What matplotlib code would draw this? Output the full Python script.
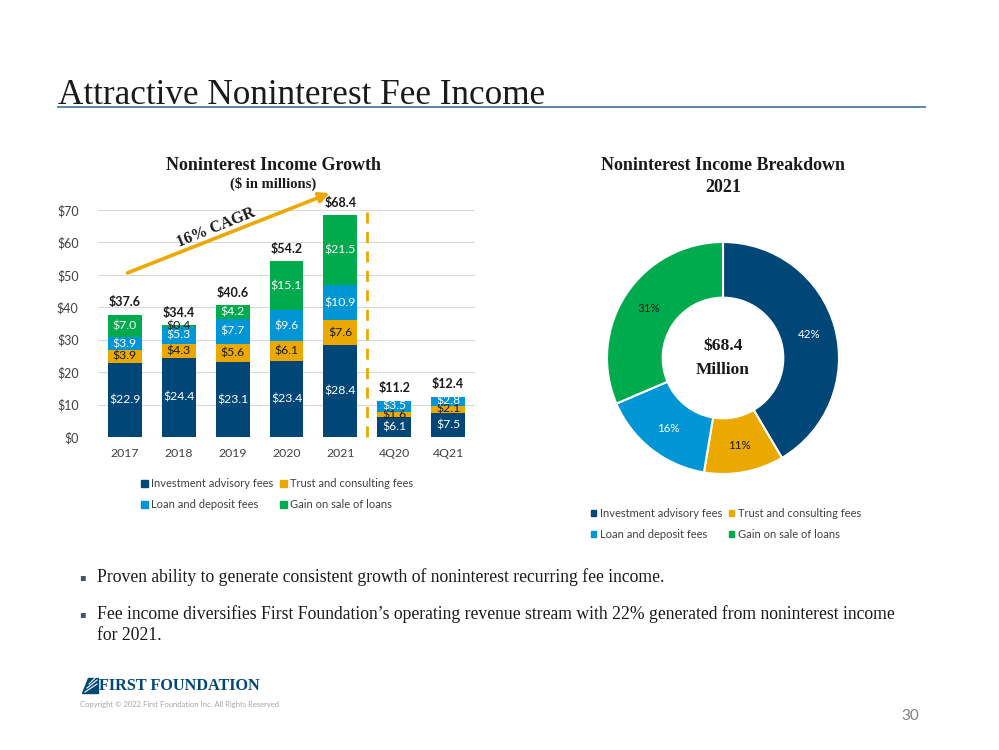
import matplotlib
matplotlib.use('Agg')
import matplotlib.pyplot as plt
import numpy as np
from matplotlib.patches import Polygon, Patch
from matplotlib.lines import Line2D

# data ($ millions)
periods = ['2017', '2018', '2019', '2020', '2021', '4Q20', '4Q21']
inv_fees = [22.9, 24.4, 23.1, 23.4, 28.4, 6.1, 7.5]
trust_fees = [3.9, 4.3, 5.6, 6.1, 7.6, 1.6, 2.1]
loan_fees = [3.9, 5.3, 7.7, 9.6, 10.9, 3.5, 2.8]
gain_fees = [7.0, 0.4, 4.2, 15.1, 21.5, 0.0, 0.0]
totals = [37.6, 34.4, 40.6, 54.2, 68.4, 11.2, 12.4]
series_names = ['Investment advisory fees', 'Trust and consulting fees',
                'Loan and deposit fees', 'Gain on sale of loans']
pie_values = [28.4, 7.6, 10.9, 21.5]   # 2021 split
y_ticks = [0, 10, 20, 30, 40, 50, 60, 70]

navy = '#004677'
gold = '#EBA900'
blue = '#0096D6'
green = '#00AB4E'
colors = [navy, gold, blue, green]
label_cols = ['white', '#1a1a1a', 'white', 'white']

W, H = 999, 750
sans = ['Lato', 'DejaVu Sans']
serif = ['Liberation Serif', 'DejaVu Serif']

fig = plt.figure(figsize=(W / 100, H / 100), dpi=100)

def fx(px):
    return px / W

def fy(py):
    return 1 - py / H

# page title + rule
fig.text(fx(58), fy(104), 'Attractive Noninterest Fee Income', family=serif,
         fontsize=25.3, color='#1a1a1a', va='baseline')
fig.add_artist(Line2D([fx(58), fx(925)], [fy(107), fy(107)], color='#5B86A8', lw=1.4))

# ---- stacked bar chart
ax = fig.add_axes([fx(98), fy(437), fx(377), 227 / H])
x = np.arange(len(periods))
bottom = np.zeros(len(periods))
series = [inv_fees, trust_fees, loan_fees, gain_fees]
for vals, col, lc in zip(series, colors, label_cols):
    vals = np.array(vals)
    ax.bar(x, vals, 0.63, bottom=bottom, color=col, zorder=3)
    for i, v in enumerate(vals):
        if v <= 0:
            continue
        c = lc if v > 1.0 else '#1a1a1a'
        ax.text(x[i], bottom[i] + v / 2, '$%.1f' % v, ha='center', va='center',
                fontsize=8.8, color=c, family=sans, zorder=4)
    bottom += vals

for i, t in enumerate(totals):
    ax.text(x[i], t + 3.9, '$%.1f' % t, ha='center', va='center', fontsize=9,
            fontweight='bold', color='#1a1a1a', family=sans)

ax.set_xlim(-0.5, 6.5)
ax.set_ylim(0, 70)
ax.set_yticks(y_ticks)
ax.set_yticklabels(['$%d' % v for v in y_ticks], family=sans, fontsize=9, color='#404040')
ax.set_xticks(x)
ax.set_xticklabels(periods, family=sans, fontsize=8.8, color='#404040')
ax.tick_params(length=0, pad=8)
ax.tick_params(axis='y', pad=14)
ax.grid(axis='y', color='#d9d9d9', lw=0.8, zorder=0)
for s in ax.spines.values():
    s.set_visible(False)

# dashed divider between annual and quarterly
ax.plot([4.5, 4.5], [0, 70], ls=(0, (4, 3)), color=gold, lw=2, zorder=5, clip_on=False)

# CAGR arrow
ax.annotate('', xy=(3.85, 75.5), xytext=(0.0, 50.3),
            arrowprops=dict(arrowstyle='-|>,head_length=0.6,head_width=0.3',
                            color=gold, lw=2.6), annotation_clip=False)
ax.text(1.69, 64.4, '16% CAGR', rotation=22, ha='center', va='center', family=serif,
        fontsize=11.5, fontweight='bold', color='#1a1a1a')

fig.text(fx(273), fy(165), 'Noninterest Income Growth', ha='center', va='center',
         family=serif, fontsize=13, fontweight='bold', color='#1a1a1a')
fig.text(fx(273), fy(184), '($ in millions)', ha='center', va='center',
         family=serif, fontsize=10.5, fontweight='bold', color='#1a1a1a')

handles = [Patch(color=c) for c in colors]
order = [0, 2, 1, 3]
fig.legend([handles[i] for i in order], [series_names[i] for i in order], ncol=2,
           loc='center', bbox_to_anchor=(fx(277), fy(494)), frameon=False,
           prop={'family': sans, 'size': 8}, handlelength=0.6, handleheight=0.6,
           handletextpad=0.3, columnspacing=0.6, labelspacing=0.9, labelcolor='#404040')

# ---- donut
r_px = 116
half = r_px * 1.25
pax = fig.add_axes([fx(723 - half), fy(358 + half), 2 * half / W, 2 * half / H])
wedges, _, autotexts = pax.pie(pie_values, colors=colors, startangle=90, counterclock=False,
                               autopct='%.0f%%', pctdistance=0.77,
                               wedgeprops=dict(width=0.48, edgecolor='white', linewidth=1.5),
                               textprops=dict(family=sans, fontsize=8.3))
for t, c in zip(autotexts, ['white', '#1a1a1a', 'white', '#1a1a1a']):
    t.set_color(c)
pax.set_xlim(-1.25, 1.25)
pax.set_ylim(-1.25, 1.25)
pax.set_aspect('equal')
pax.text(0, 0.1, '$68.4', ha='center', va='center', family=serif, fontsize=12.5,
         fontweight='bold', color='#1a1a1a')
pax.text(0, -0.1, 'Million', ha='center', va='center', family=serif, fontsize=12.5,
         fontweight='bold', color='#1a1a1a')

fig.text(fx(723), fy(165), 'Noninterest Income Breakdown', ha='center', va='center',
         family=serif, fontsize=13, fontweight='bold', color='#1a1a1a')
fig.text(fx(723), fy(188), '2021', ha='center', va='center',
         family=serif, fontsize=13, fontweight='bold', color='#1a1a1a')

fig.legend([handles[i] for i in order], [series_names[i] for i in order], ncol=2,
           loc='center', bbox_to_anchor=(fx(726), fy(524)), frameon=False,
           prop={'family': sans, 'size': 8}, handlelength=0.45, handleheight=0.45,
           handletextpad=0.4, columnspacing=0.6, labelspacing=0.9, labelcolor='#404040')

# ---- bullets
bullets = [
    (577, 'Proven ability to generate consistent growth of noninterest recurring fee income.'),
    (614, 'Fee income diversifies First Foundation\u2019s operating revenue stream with 22% generated from noninterest income'),
    (635, 'for 2021.'),
]
for i, (py, txt) in enumerate(bullets):
    if i < 2:
        fig.text(fx(79), fy(py), '\u25aa', ha='left', va='center', fontsize=7,
                 color='#44546A', family=['DejaVu Sans'])
    fig.text(fx(97), fy(py), txt, ha='left', va='center', family=serif,
             fontsize=12.7, color='#1a1a1a')

# ---- footer / logo
icon = Polygon([[fx(82), fy(693)], [fx(98), fy(693)], [fx(98), fy(678)], [fx(88), fy(678)]],
               closed=True, color=navy, transform=fig.transFigure)
fig.add_artist(icon)
for k in range(3):
    y0 = 690 - k * 4
    fig.add_artist(Line2D([fx(85 + k * 2), fx(97)], [fy(y0 + 2), fy(y0 - 6)],
                          color='white', lw=0.8))
fig.text(fx(99), fy(686), 'FIRST FOUNDATION', ha='left', va='center', family=serif,
         fontsize=11.7, fontweight='bold', color=navy)
fig.text(fx(80), fy(704), 'Copyright \u00a9 2022 First Foundation Inc. All Rights Reserved',
         ha='left', va='center', family=sans, fontsize=5.5, color='#a6a6a6')
fig.text(fx(919), fy(716), '30', ha='right', va='center', family=sans, fontsize=11,
         color='#7f7f7f')

fig.savefig('out.png', dpi=100)
